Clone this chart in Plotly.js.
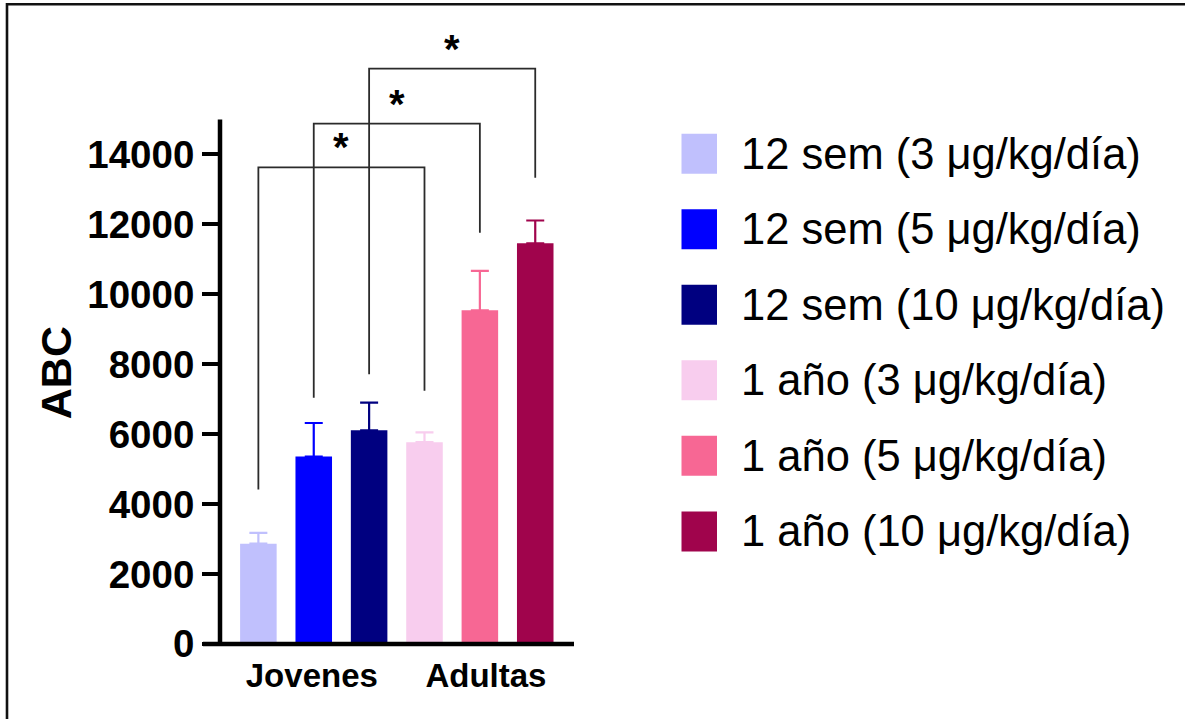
<!DOCTYPE html>
<html>
<head>
<meta charset="utf-8">
<script src="https://cdn.plot.ly/plotly-3.0.1.min.js"></script>
<style>
  html, body { margin: 0; padding: 0; background: #ffffff; }
  #chart { width: 1185px; height: 719px; }
</style>
</head>
<body>
<div id="chart"></div>
<script>
// Series (one bar each), mean AUC and SEM
const seriesNames = [
  '12 sem (3 μg/kg/día)',
  '12 sem (5 μg/kg/día)',
  '12 sem (10 μg/kg/día)',
  '1 año (3 μg/kg/día)',
  '1 año (5 μg/kg/día)',
  '1 año (10 μg/kg/día)'
];
const seriesColors = ['#c0c0fd', '#0000ff', '#000080', '#f8cdee', '#f76794', '#a0044c'];
const aucMean = [2870, 5360, 6110, 5770, 9540, 11460];
const aucSem  = [310, 960, 790, 280, 1130, 650];

// Group labels under the x axis
const groupLabels = ['Jovenes', 'Adultas'];

// Y axis ticks and title
const yTickVals = [0, 2000, 4000, 6000, 8000, 10000, 12000, 14000];
const yAxisTop = 15000;
const yTitle = 'ABC';

// Significance brackets: pairs of bars, bracket height, lower ends of both legs
const comparisons = [[0, 3], [1, 4], [2, 5]];
const bracketTops = [13630, 14880, 16450];
const bracketLegEnds = [[4420, 7240], [7040, 11760], [7710, 13330]];
const bracketMarks = ['*', '*', '*'];

// ---- layout geometry ----
const W = 1185, H = 719;
const M = { l: 220, r: 611, t: 31.5, b: 75 };
const plotW = W - M.l - M.r;
const plotH = H - M.t - M.b;
const yMax = 17500;
const xRange = [-0.693, 5.70];

// pixel -> paper helpers for the decorations drawn outside the data area
const pxX = px => (px - M.l) / plotW;
const pxY = py => (H - M.b - py) / plotH;

const FONT = 'Liberation Sans, Arial, Helvetica, sans-serif';

const traces = seriesNames.map((name, i) => ({
  type: 'bar',
  name: name,
  x: [i],
  y: [aucMean[i]],
  width: 0.66,
  marker: { color: seriesColors[i], line: { width: 0 } },
  error_y: {
    type: 'data',
    symmetric: false,
    array: [aucSem[i]],
    arrayminus: [0],
    color: seriesColors[i],
    thickness: 2.2,
    width: 9
  },
  showlegend: false,
  hoverinfo: 'y+name'
}));

const shapes = [];
const annotations = [];

// brackets
comparisons.forEach((pair, k) => {
  const [a, b] = pair;
  const top = bracketTops[k];
  const [la, lb] = bracketLegEnds[k];
  shapes.push({
    type: 'path', xref: 'x', yref: 'y',
    path: `M ${a},${la} L ${a},${top} L ${b},${top} L ${b},${lb}`,
    line: { color: '#2b2b2b', width: 1.8 }
  });
  annotations.push({
    xref: 'x', yref: 'y', x: (a + b) / 2, y: top,
    text: bracketMarks[k], showarrow: false,
    xanchor: 'center', yanchor: 'bottom', yshift: -4,
    font: { family: FONT, size: 40, weight: 'bold', color: '#000' }
  });
});

// y axis title
annotations.push({
  xref: 'paper', yref: 'paper', x: pxX(56), y: pxY(373),
  text: yTitle, showarrow: false, textangle: -90,
  xanchor: 'center', yanchor: 'middle',
  font: { family: FONT, size: 43, weight: 'bold', color: '#000' }
});

// axis lines (y axis stops at 15000, x axis runs under the tick stubs)
shapes.push({
  type: 'line', xref: 'paper', yref: 'paper',
  x0: 0, x1: 0, y0: pxY(646), y1: yAxisTop / yMax,
  line: { color: '#000', width: 4.5 }
});
shapes.push({
  type: 'line', xref: 'paper', yref: 'paper',
  x0: pxX(203), x1: 1, y0: 0, y1: 0,
  line: { color: '#000', width: 4.5 }
});

// frame
shapes.push({
  type: 'line', xref: 'paper', yref: 'paper',
  x0: pxX(6), x1: pxX(W + 5), y0: pxY(3.7), y1: pxY(3.7),
  line: { color: '#111', width: 2.6 }
});
shapes.push({
  type: 'line', xref: 'paper', yref: 'paper',
  x0: pxX(7), x1: pxX(7), y0: pxY(2.5), y1: pxY(H + 5),
  line: { color: '#111', width: 2.6 }
});

// legend
const legendTop = 153.3, legendStep = 75.6;
seriesNames.forEach((name, i) => {
  const cy = legendTop + i * legendStep;
  shapes.push({
    type: 'rect', xref: 'paper', yref: 'paper',
    x0: pxX(681.5), x1: pxX(717), y0: pxY(cy - 20), y1: pxY(cy + 20),
    fillcolor: seriesColors[i], line: { width: 0 }
  });
  annotations.push({
    xref: 'paper', yref: 'paper', x: pxX(739), y: pxY(cy),
    text: name, showarrow: false, xanchor: 'left', yanchor: 'middle',
    font: { family: FONT, size: 43.5, color: '#000' }
  });
});

const layout = {
  width: W, height: H,
  margin: M,
  paper_bgcolor: '#ffffff',
  plot_bgcolor: '#ffffff',
  barmode: 'overlay',
  showlegend: false,
  font: { family: FONT, color: '#000' },
  xaxis: {
    range: xRange,
    tickmode: 'array',
    tickvals: [0.965, 4.11],
    ticktext: groupLabels,
    ticks: '',
    showline: false,
    showgrid: false,
    zeroline: false,
    tickfont: { family: FONT, size: 33, weight: 'bold', color: '#000' },
    ticklabelstandoff: 9,
    fixedrange: true
  },
  yaxis: {
    range: [0, yMax],
    tickmode: 'array',
    tickvals: yTickVals,
    ticktext: yTickVals.map(String),
    ticks: 'outside',
    ticklen: 17,
    tickwidth: 4,
    tickcolor: '#000',
    showline: false,
    showgrid: false,
    zeroline: false,
    tickfont: { family: FONT, size: 38.5, weight: 'bold', color: '#000' },
    automargin: false,
    fixedrange: true
  },
  shapes: shapes,
  annotations: annotations
};

Plotly.newPlot('chart', traces, layout, { displayModeBar: false, staticPlot: true });
</script>
</body>
</html>
